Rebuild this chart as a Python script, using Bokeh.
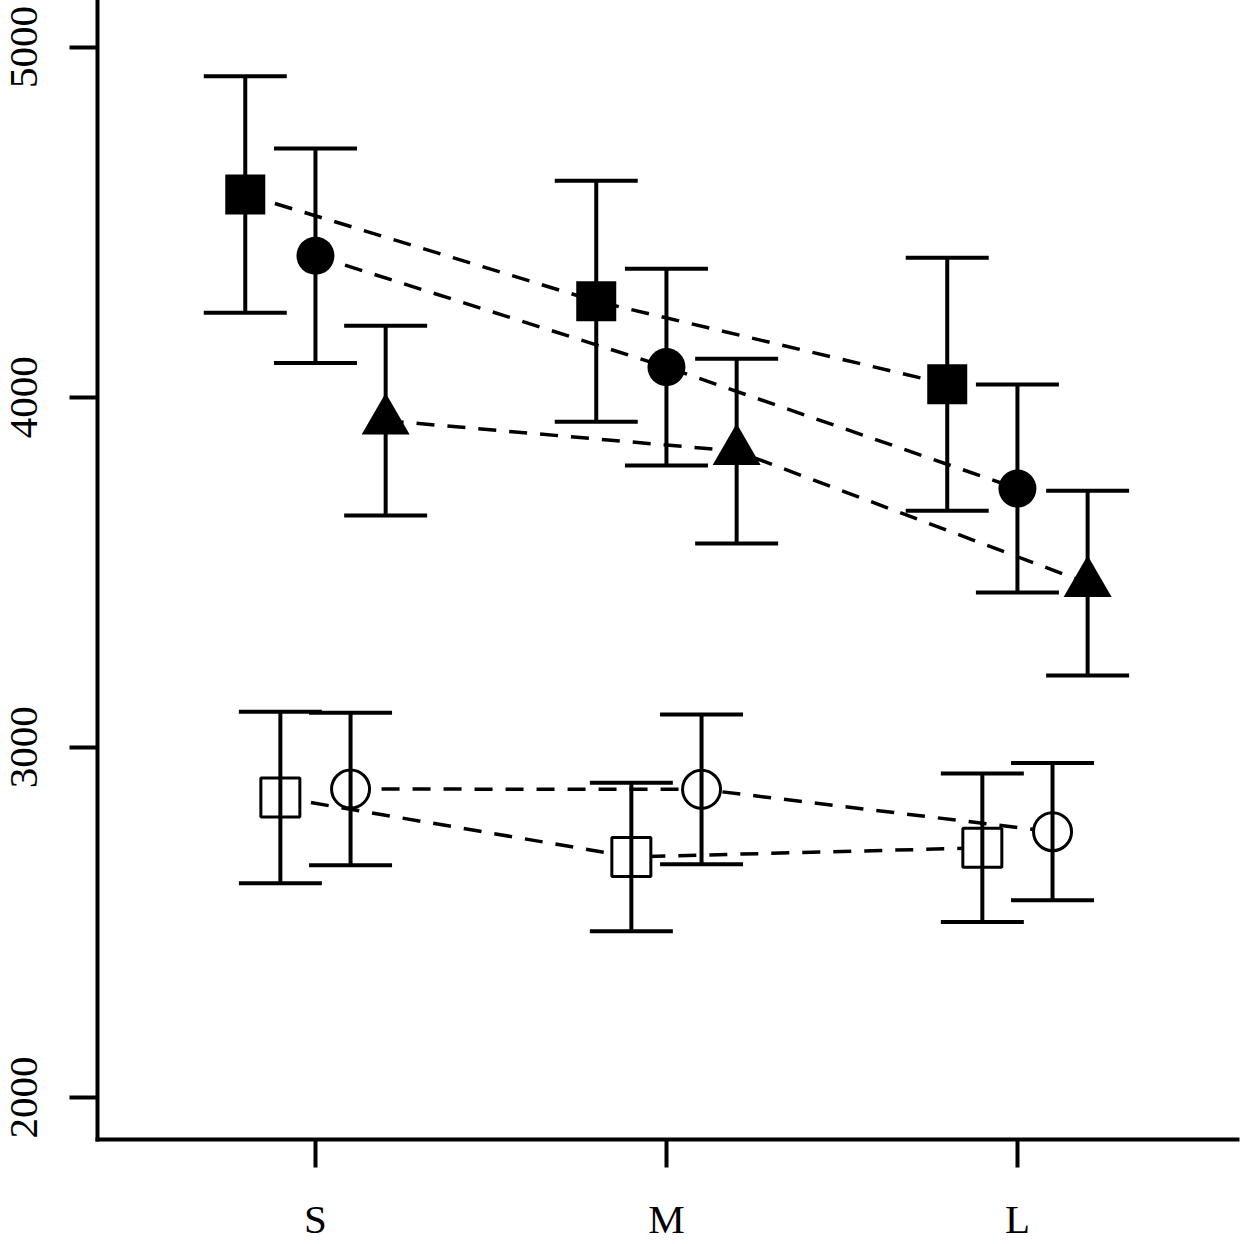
import math
from bokeh.plotting import figure
from bokeh.models import Range1d, FixedTicker, ColumnDataSource
from bokeh.embed import file_html
from bokeh.resources import INLINE

# ---- data -------------------------------------------------------------
groups = ["S", "M", "L"]
group_pos = [1, 2, 3]
y_ticks = [2000, 3000, 4000, 5000]
y_tick_labels = ["2000", "3000", "4000", "5000"]

sq_filled_mean = [4579, 4274, 4037]
sq_filled_err = [338, 344, 361]
circ_filled_mean = [4404, 4086, 3739]
circ_filled_err = [306, 281, 297]
tri_filled_mean = [3933, 3846, 3469]
tri_filled_err = [271, 264, 264]
sq_open_mean = [2857, 2687, 2713]
sq_open_err = [245, 212, 212]
circ_open_mean = [2881, 2880, 2759]
circ_open_err = [218, 214, 196]

# ---- style / layout -----------------------------------------------------
X_START, X_END = 0.379, 3.627
Y_START, Y_END = 1880, 5133
FONT = "Liberation Serif"
LW = 4

series = [
    # mean, err, x-offset, marker, filled, size
    (sq_filled_mean, sq_filled_err, -0.2, "square", True, 40),
    (circ_filled_mean, circ_filled_err, 0.0, "circle", True, 38),
    (tri_filled_mean, tri_filled_err, 0.2, "triangle", True, 48),
    (sq_open_mean, sq_open_err, -0.1, "square", False, 39),
    (circ_open_mean, circ_open_err, 0.1, "circle", False, 38),
]

p = figure(width=1241, height=1244,
           x_range=Range1d(X_START, X_END), y_range=Range1d(Y_START, Y_END),
           output_backend="svg", toolbar_location=None,
           min_border_left=97, min_border_right=4,
           min_border_top=0, min_border_bottom=102,
           background_fill_color="white", border_fill_color="white")
p.outline_line_color = None
p.grid.visible = False

for ax in (p.xaxis[0], p.yaxis[0]):
    ax.axis_line_width = LW
    ax.axis_line_color = "black"
    ax.axis_line_cap = "square"
    ax.major_tick_line_width = LW
    ax.major_tick_line_color = "black"
    ax.major_tick_out = 28
    ax.major_tick_in = 0
    ax.minor_tick_out = 0
    ax.minor_tick_in = 0
    ax.major_label_text_font = FONT
    ax.major_label_text_font_size = "41px"
    ax.major_label_text_color = "black"

p.yaxis.ticker = FixedTicker(ticks=y_ticks)
p.yaxis.major_label_overrides = dict(zip(y_ticks, y_tick_labels))
p.yaxis.major_label_orientation = "parallel"
p.yaxis.major_label_text_line_height = 0.8
p.yaxis.major_label_standoff = 32
p.xaxis.ticker = FixedTicker(ticks=group_pos)
p.xaxis.major_label_overrides = dict(zip(group_pos, groups))
p.xaxis.major_label_standoff = 28

# dashed connecting lines
prepared = []
for mean, err, off, marker, filled, size in series:
    src = ColumnDataSource(dict(
        x=[g + off for g in group_pos],
        y=mean,
        lo=[m - e for m, e in zip(mean, err)],
        hi=[m + e for m, e in zip(mean, err)],
    ))
    prepared.append((src, marker, filled, size))
    p.line("x", "y", source=src, line_dash="18 13", line_width=3.5, line_color="black")

# white backing for hollow markers (hides the dashed lines inside them)
for src, marker, filled, size in prepared:
    if not filled:
        p.scatter("x", "y", source=src, marker=marker, size=size + 2,
                  fill_color="white", line_color=None)

# error bars
for src, marker, filled, size in prepared:
    p.segment(x0="x", y0="lo", x1="x", y1="hi", source=src,
              line_width=LW, line_color="black")
    p.scatter("x", "hi", source=src, marker="dash", size=83,
              line_width=LW, line_color="black")
    p.scatter("x", "lo", source=src, marker="dash", size=83,
              line_width=LW, line_color="black")

# markers
for src, marker, filled, size in prepared:
    if filled:
        p.scatter("x", "y", source=src, marker=marker, size=size,
                  fill_color="black", line_color=None)
    else:
        p.scatter("x", "y", source=src, marker=marker, size=size,
                  fill_color=None, line_color="black", line_width=3)

open("out.html", "w").write(file_html(p, INLINE))
